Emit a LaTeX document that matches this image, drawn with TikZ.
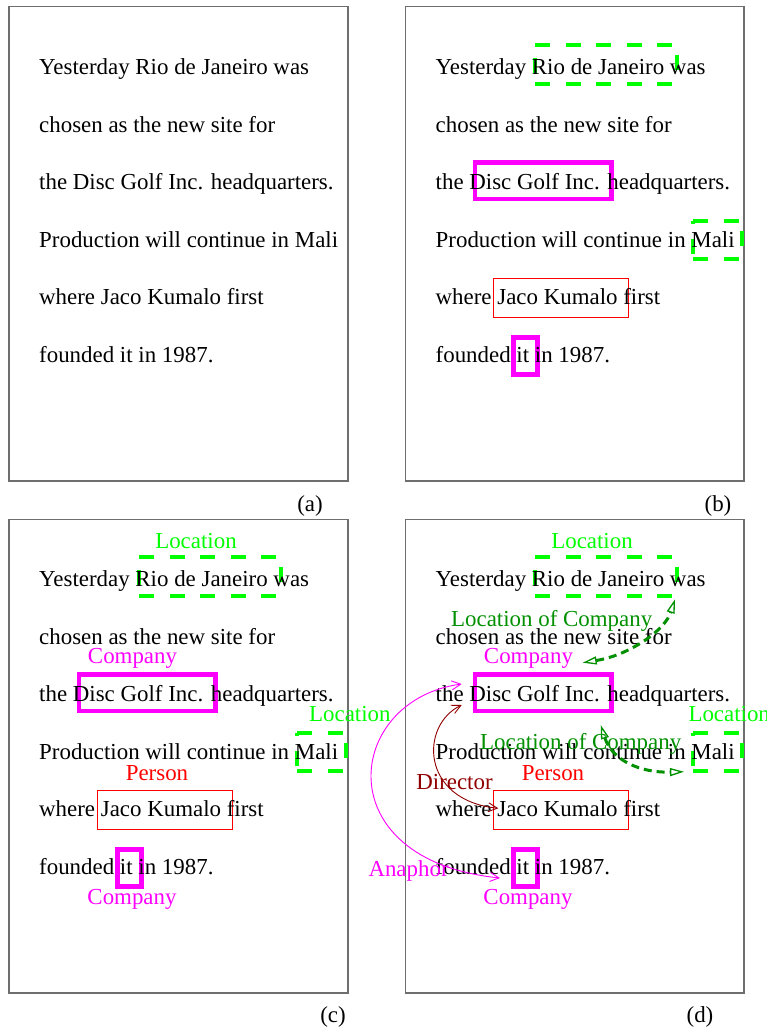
\documentclass[tikz,border=0pt]{standalone}
\usepackage{fontspec}
\setmainfont{Liberation Serif}
\usetikzlibrary{arrows.meta}
\definecolor{fgreen}{RGB}{0,255,0}
\definecolor{fmag}{RGB}{255,0,255}
\definecolor{fred}{RGB}{255,0,0}
\definecolor{dgreen}{RGB}{0,144,0}
\definecolor{dred}{RGB}{144,0,0}
\definecolor{bordc}{RGB}{110,110,110}
\tikzset{
  txt/.style={anchor=base west, inner sep=0pt, font=\fontsize{22.9}{27}\selectfont},
  lbl/.style={anchor=base, inner sep=0pt, font=\fontsize{22.9}{27}\selectfont},
  panel/.style={draw=bordc, line width=1.4pt},
  magbox/.style={draw=fmag, line width=4.5pt, inner sep=0pt},
  redbox/.style={draw=fred, line width=1pt, inner sep=0pt},
  gdash/.style={draw=fgreen, line width=3.8pt, dash pattern=on 15pt off 15.5pt},
  relarrow/.style={dgreen, line width=3pt, dash pattern=on 8pt off 5pt,
    {Triangle[open, length=14pt, width=8pt, line width=1.3pt]}-{Triangle[open, length=14pt, width=8pt, line width=1.3pt]}},
  thinarrow/.style={line width=0.9pt, {Straight Barb[length=9pt, width=9pt]}-{Straight Barb[length=9pt, width=9pt]}}
}
% green dashed box: name, x1, y1, x2, y2, left phase, right phase
\newcommand\gbox[7]{%
  \coordinate (#1-nw) at (#2,#3); \coordinate (#1-ne) at (#4,#3);
  \coordinate (#1-sw) at (#2,#5); \coordinate (#1-se) at (#4,#5);
  \draw[gdash] (#1-nw) -- (#1-ne);
  \draw[gdash] (#1-sw) -- (#1-se);
  \draw[gdash, dash phase=#6pt] (#1-nw) -- (#1-sw);
  \draw[gdash, dash phase=#7pt] (#1-ne) -- (#1-se);
}
\begin{document}
\begin{tikzpicture}[x=1pt, y=-1pt]
\useasboundingbox (0,0) rectangle (766,1030);

% panels
\draw[panel] (9,6.5) rectangle (348,481);
\draw[panel] (405.3,6.5) rectangle (744,481);
\draw[panel] (9,519.5) rectangle (348,993);
\draw[panel] (405.3,519.5) rectangle (744,993);

\node[lbl] (la) at (310,511) {(a)};
\node[lbl] (lb) at (718,511) {(b)};
\node[lbl] (lc) at (333,1022) {(c)};
\node[lbl] (ld) at (700,1022) {(d)};

% entity boxes
\foreach \p/\dx/\dy in {b/0/0, c/-396/512, d/0/512} {
  \begin{scope}[shift={(\dx,\dy)}]
    \gbox{rio\p}{535}{45.3}{677}{83.7}{17.7}{21}
    \gbox{mali\p}{693.3}{221.3}{741.7}{259}{12.8}{21.1}
    \node[magbox, minimum width=136.3pt, minimum height=36.7pt] (disc\p) at (543.2,180.8) {};
    \node[magbox, minimum width=23.6pt, minimum height=37pt] (it\p) at (525.5,355.8) {};
    \node[redbox, minimum width=135.4pt, minimum height=38.3pt] (jaco\p) at (561,297.9) {};
  \end{scope}
}

% texts
\foreach \p/\tx/\ty in {a/39/0, b/435.5/0, c/39/512, d/435.5/512} {
  \node[txt] (\p1) at (\tx,74.5+\ty) {Yesterday Rio de Janeiro was};
  \node[txt] (\p2) at (\tx,132+\ty) {chosen as the new site for};
  \node[txt] (\p3) at (\tx,189.5+\ty) {the Disc Golf Inc. headquarters.};
  \node[txt] (\p4) at (\tx,247+\ty) {Production will continue in Mali};
  \node[txt] (\p5) at (\tx,304.5+\ty) {where Jaco Kumalo first};
  \node[txt] (\p6) at (\tx,362+\ty) {founded it in 1987.};
}

% labels panel c
\node[lbl, fgreen] (cLoc1) at (196,548.3) {Location};
\node[lbl, fmag] (cCom1) at (132.5,663) {Company};
\node[txt, fgreen] (cLoc2) at (309,721.7) {Location};
\node[lbl, fred] (cPer) at (157,780) {Person};
\node[lbl, fmag] (cCom2) at (132,904) {Company};

% labels panel d
\node[lbl, fgreen] (dLoc1) at (592,548.3) {Location};
\node[lbl, fmag] (dCom1) at (528.5,663) {Company};
\node[txt, fgreen] (dLoc2) at (688.3,721.7) {Location};
\node[lbl, fred] (dPer) at (553,780) {Person};
\node[lbl, fmag] (dCom2) at (528,904) {Company};
\node[lbl, dgreen] (dLoC1) at (551.7,626) {Location of Company};
\node[txt, dgreen] (dLoC2) at (480,749) {Location of Company};
\node[lbl, dred] (dDir) at (454.5,789.3) {Director};
\node[txt, fmag] (dAna) at (368.3,876.7) {Anaphor};

% relation end points
\coordinate (A1) at (461.7,684);
\coordinate (A2) at (500,878);
\coordinate (D1) at (461.7,705);
\coordinate (D2) at (498.3,808.3);
\coordinate (L1) at (675,599.3);
\coordinate (L2) at (582.7,662.7);
\coordinate (M1) at (600.7,725);
\coordinate (M2) at (684,771.7);

% relations
\draw[thinarrow, fmag] (A2) .. controls (325,860) and (345,700) .. (A1);
\draw[thinarrow, dred] (D1) .. controls (420,725) and (420,800) .. (D2);
\draw[relarrow] (L2) .. controls (630,655) and (665,630) .. (L1);
\draw[relarrow] (M1) .. controls (612,760) and (640,773) .. (M2);
\end{tikzpicture}
\end{document}
